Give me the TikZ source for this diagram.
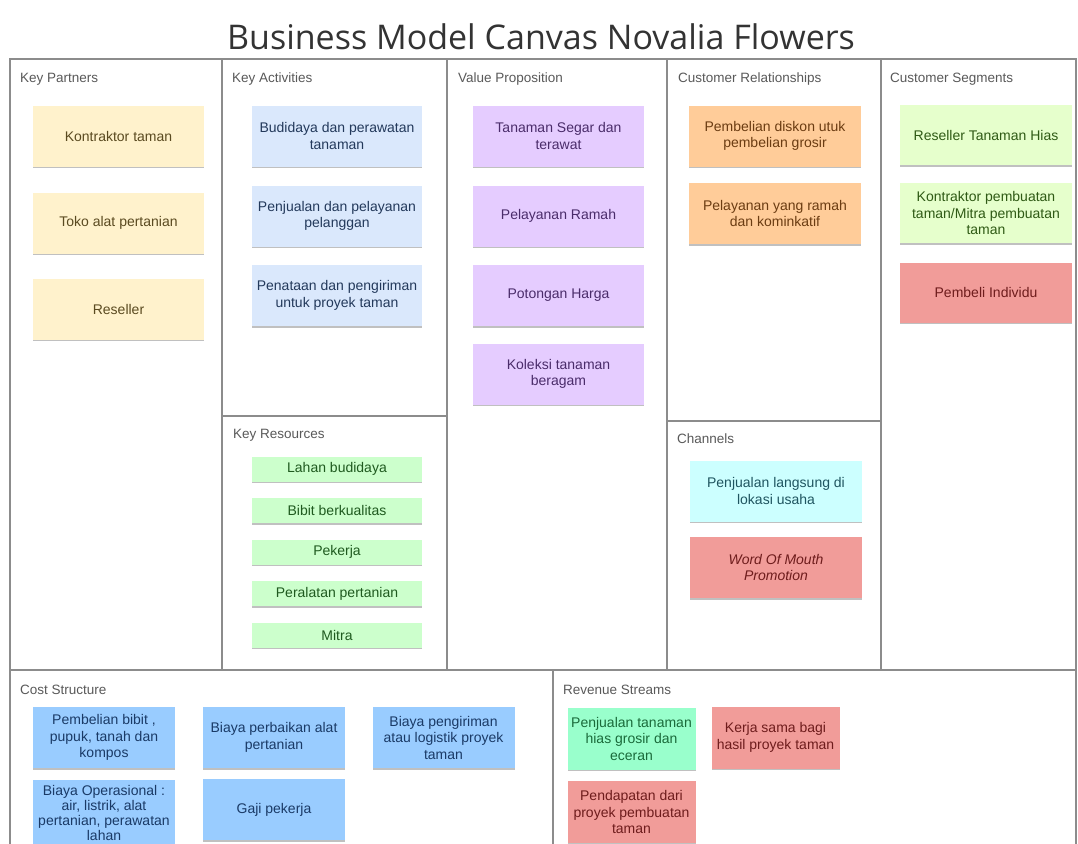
\documentclass[tikz,border=0pt]{standalone}
\usepackage{fontspec}
\setmainfont{Liberation Sans}
\newfontfamily\titlefont{Open Sans}
\usetikzlibrary{shadows}

% sticky note colours
\definecolor{partnerfill}{HTML}{FFF2CC}
\definecolor{partnertext}{HTML}{5A4A20}
\definecolor{activityfill}{HTML}{DAE8FC}
\definecolor{activitytext}{HTML}{23395B}
\definecolor{valuefill}{HTML}{E5CCFF}
\definecolor{valuetext}{HTML}{4A2C6A}
\definecolor{relationfill}{HTML}{FFCC99}
\definecolor{relationtext}{HTML}{6B3C12}
\definecolor{segmentfill}{HTML}{E6FFCC}
\definecolor{segmenttext}{HTML}{2F5A15}
\definecolor{redfill}{HTML}{F19C99}
\definecolor{redtext}{HTML}{6E1C1C}
\definecolor{resourcefill}{HTML}{CCFFCC}
\definecolor{resourcetext}{HTML}{1F5A1F}
\definecolor{channelfill}{HTML}{CCFFFF}
\definecolor{channeltext}{HTML}{1F5560}
\definecolor{costfill}{HTML}{99CCFF}
\definecolor{costtext}{HTML}{1A3A66}
\definecolor{revenuefill}{HTML}{99FFCC}
\definecolor{revenuetext}{HTML}{1A6A3A}
\definecolor{gridline}{HTML}{8C8C8C}

\begin{document}
\begin{tikzpicture}[x=1pt, y=-1pt,
    line/.style={draw=gridline, line width=1.4pt},
    heading/.style={anchor=west, inner sep=0pt, text=black!65, font=\fontsize{13.5}{16}\selectfont},
    note/.style={align=center, inner sep=0pt, font=\fontsize{14}{16.5}\selectfont,
        drop shadow={shadow xshift=0.3pt, shadow yshift=-1.8pt, opacity=0.35, fill=black!70}},
    partner/.style={note, fill=partnerfill, text=partnertext, minimum width=171pt, minimum height=61pt},
    activity/.style={note, fill=activityfill, text=activitytext, minimum width=170pt, minimum height=61pt},
    value/.style={note, fill=valuefill, text=valuetext, minimum width=171pt, minimum height=61pt},
    relation/.style={note, fill=relationfill, text=relationtext, minimum width=172pt, minimum height=61pt},
    segment/.style={note, fill=segmentfill, text=segmenttext, minimum width=172pt, minimum height=60pt},
    resource/.style={note, fill=resourcefill, text=resourcetext, minimum width=170pt, minimum height=25pt},
    channel/.style={note, fill=channelfill, text=channeltext, minimum width=172pt, minimum height=61pt},
    cost/.style={note, fill=costfill, text=costtext, minimum width=142pt, minimum height=61pt},
    revenue/.style={note, fill=revenuefill, text=revenuetext, minimum width=128pt, minimum height=62pt},
    hot/.style={fill=redfill, text=redtext}]
    \useasboundingbox (0,0) rectangle (1078,843);
    \fill[white] (0,0) rectangle (1078,843);

    \node[font=\titlefont\fontsize{34}{40}\selectfont, text=black!80] (title) at (541,37) {Business Model Canvas Novalia Flowers};

    % canvas grid
    \draw[line] (10,860) -- (10,59) -- (1076,59) -- (1076,860);
    \draw[line] (10,670) -- (1076,670);
    \draw[line] (222,59) -- (222,670);
    \draw[line] (447,59) -- (447,670);
    \draw[line] (667,59) -- (667,670);
    \draw[line] (881,59) -- (881,670);
    \draw[line] (222,416) -- (447,416);
    \draw[line] (667,421) -- (881,421);
    \draw[line] (553,670) -- (553,860);

    % block headings
    \node[heading] (hpartners) at (20,79) {Key Partners};
    \node[heading] (hactivities) at (232,79) {Key Activities};
    \node[heading] (hvalue) at (458,79) {Value Proposition};
    \node[heading] (hrelations) at (678,79) {Customer Relationships};
    \node[heading] (hsegments) at (890,79) {Customer Segments};
    \node[heading] (hresources) at (233,435) {Key Resources};
    \node[heading] (hchannels) at (677,439) {Channels};
    \node[heading] (hcost) at (20,690) {Cost Structure};
    \node[heading] (hrevenue) at (563,690) {Revenue Streams};

    % key partners
    \node[partner] (kp1) at (118.5,136) {Kontraktor taman};
    \node[partner] (kp2) at (118.5,223) {Toko alat pertanian};
    \node[partner] (kp3) at (118.5,309) {Reseller};

    % key activities
    \node[activity] (ka1) at (337,136) {Budidaya dan perawatan\\tanaman};
    \node[activity] (ka2) at (337,216) {Penjualan dan pelayanan\\pelanggan};
    \node[activity] (ka3) at (337,295.5) {Penataan dan pengiriman\\untuk proyek taman};

    % key resources
    \node[resource] (kr1) at (337,469) {Lahan budidaya};
    \node[resource] (kr2) at (337,510.5) {Bibit berkualitas};
    \node[resource] (kr3) at (337,552) {Pekerja};
    \node[resource] (kr4) at (337,593.5) {Peralatan pertanian};
    \node[resource] (kr5) at (337,635) {Mitra};

    % value proposition
    \node[value] (vp1) at (558.5,136) {Tanaman Segar dan\\terawat};
    \node[value] (vp2) at (558.5,216) {Pelayanan Ramah};
    \node[value] (vp3) at (558.5,295.5) {Potongan Harga};
    \node[value] (vp4) at (558.5,374) {Koleksi tanaman\\beragam};

    % customer relationships
    \node[relation] (cr1) at (775,136) {Pembelian diskon utuk\\pembelian grosir};
    \node[relation] (cr2) at (775,213.5) {Pelayanan yang ramah\\dan kominkatif};

    % channels
    \node[channel] (ch1) at (776,491) {Penjualan langsung di\\lokasi usaha};
    \node[channel, hot] (ch2) at (776,567.5) {\itshape Word Of Mouth\\\itshape Promotion};

    % customer segments
    \node[segment] (cs1) at (986,135) {Reseller Tanaman Hias};
    \node[segment] (cs2) at (986,213) {Kontraktor pembuatan\\taman/Mitra pembuatan\\taman};
    \node[segment, hot] (cs3) at (986,292.5) {Pembeli Individu};

    % cost structure
    \node[cost] (co1) at (104,737.5) {Pembelian bibit ,\\pupuk, tanah dan\\kompos};
    \node[cost] (co2) at (274,737.5) {Biaya perbaikan alat\\pertanian};
    \node[cost] (co3) at (443.5,737.5) {Biaya pengiriman\\atau logistik proyek\\taman};
    \node[cost, minimum height=66pt, font=\fontsize{14}{14.8}\selectfont] (co4) at (104,813) {Biaya Operasional :\\air, listrik, alat\\pertanian, perawatan\\lahan};
    \node[cost] (co5) at (274,809.5) {Gaji pekerja};

    % revenue streams
    \node[revenue] (rv1) at (631.5,738.5) {Penjualan tanaman\\hias grosir dan\\eceran};
    \node[revenue, hot] (rv2) at (775.5,737.5) {Kerja sama bagi\\hasil proyek taman};
    \node[revenue, hot] (rv3) at (631.5,812) {Pendapatan dari\\proyek pembuatan\\taman};
\end{tikzpicture}
\end{document}
